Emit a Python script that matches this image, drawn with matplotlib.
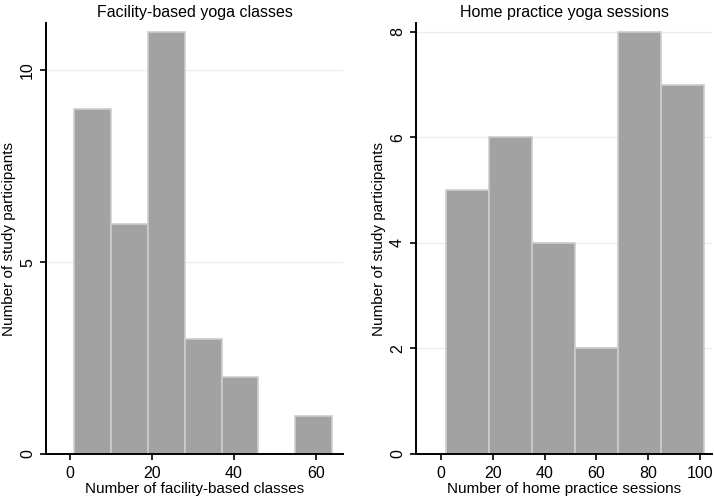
import numpy as np
import matplotlib.pyplot as plt

plt.rcParams['font.family'] = ['Liberation Sans', 'DejaVu Sans']

# facility-based classes histogram
fac_edges = [1, 10, 19, 28, 37, 46, 55, 64]
fac_counts = [9, 6, 11, 3, 2, 0, 1]

# home practice sessions histogram
home_edges = [1.9, 18.5, 35.1, 51.7, 68.3, 84.9, 101.5]
home_counts = [5, 6, 4, 2, 8, 7]

fac_xticks = [0, 20, 40, 60]
fac_yticks = [0, 5, 10]
home_xticks = [0, 20, 40, 60, 80, 100]
home_yticks = [0, 2, 4, 6, 8]

bar_col = '#a2a2a2'
edge_col = '#cdcdcd'
grid_col = '#ececec'

fig = plt.figure(figsize=(7.14, 4.97), dpi=100)
ax1 = fig.add_axes([46/714, 43/497, 297/714, 431/497])
ax2 = fig.add_axes([416/714, 43/497, 296/714, 431/497])


def hist_panel(ax, edges, counts, xticks, yticks, xlim, ylim, title, xlabel):
    edges = np.array(edges)
    ax.bar(edges[:-1], counts, width=np.diff(edges), align='edge',
           color=bar_col, edgecolor=edge_col, linewidth=1.2, zorder=2)
    ax.set_xlim(*xlim)
    ax.set_ylim(*ylim)
    ax.set_xticks(xticks)
    ax.set_yticks(yticks)
    ax.set_yticklabels([str(v) for v in yticks], rotation=90, va='center')
    ax.grid(axis='y', color=grid_col, linewidth=0.9, zorder=0)
    ax.grid(axis='x', visible=False)
    for s in ['top', 'right']:
        ax.spines[s].set_visible(False)
    for s in ['left', 'bottom']:
        ax.spines[s].set_linewidth(1.4)
    ax.tick_params(axis='both', direction='out', length=4, width=1.2,
                   labelsize=11.5, pad=4)
    ax.tick_params(axis='x', pad=5)
    ax.set_title(title, fontsize=11.5, pad=4)
    ax.set_xlabel(xlabel, fontsize=11, labelpad=0)
    ax.set_ylabel('Number of study participants', fontsize=11, labelpad=3)


hist_panel(ax1, fac_edges, fac_counts, fac_xticks, fac_yticks,
           (-5.8, 66.6), (0, 11.23),
           'Facility-based yoga classes', 'Number of facility-based classes')
hist_panel(ax2, home_edges, home_counts, home_xticks, home_yticks,
           (-9.6, 104.6), (0, 8.17),
           'Home practice yoga sessions', 'Number of home practice sessions')

fig.savefig('out.png', dpi=100)
